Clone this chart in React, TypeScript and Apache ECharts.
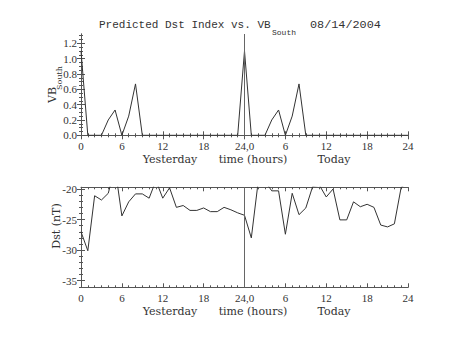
import React, { useEffect, useRef } from "react";
import * as echarts from "echarts";

// hourly values, hour 0 (yesterday 00 UT) .. hour 48 (today 24 UT)
const vbSouth = [
  1.1, 0, 0, 0, 0.2, 0.33, 0, 0.25, 0.67, 0,
  0, 0, 0, 0, 0, 0, 0, 0, 0, 0,
  0, 0, 0, 0, 1.1, 0, 0, 0, 0.2, 0.33,
  0, 0.25, 0.67, 0, 0, 0, 0, 0, 0, 0,
  0, 0, 0, 0, 0, 0, 0, 0, 0,
];
const dst = [
  -27.0, -30.1, -21.1, -21.8, -20.7, -16.5, -24.4, -22.1, -20.8, -20.8,
  -21.5, -18.6, -21.5, -19.8, -23.0, -22.7, -23.5, -23.5, -23.1, -23.7,
  -23.7, -23.0, -23.4, -23.9, -24.3, -28.0, -18.9, -18.7, -20.3, -20.3,
  -27.4, -20.7, -24.2, -23.1, -19.6, -19.4, -21.3, -20.0, -25.05, -25.05,
  -22.1, -22.9, -22.5, -23.0, -25.9, -26.2, -25.7, -19.7, -19.0,
];
const xMajorTicks = [0, 6, 12, 18, 24, 30, 36, 42, 48];
const xMajorLabels = ["0", "6", "12", "18", "24,0", "6", "12", "18", "24"];
const xMinorTicks = Array.from({ length: 49 }, (_, i) => i);
const vbMajorTicks = [0, 0.2, 0.4, 0.6, 0.8, 1.0, 1.2];
const vbMinorTicks = [0, 0.05, 0.1, 0.15, 0.2, 0.25, 0.3, 0.35, 0.4, 0.45, 0.5, 0.55, 0.6, 0.65, 0.7, 0.75, 0.8, 0.85, 0.9, 0.95, 1.0, 1.05, 1.1, 1.15, 1.2, 1.25, 1.3];
const dstMajorTicks = [-35, -30, -25, -20];
const dstMinorTicks = [-36, -35, -34, -33, -32, -31, -30, -29, -28, -27, -26, -25, -24, -23, -22, -21, -20];

const FRAME = "#555";
const INK = "#333";
const TICKFONT = "Liberation Serif";
const TEXTFONT = "DejaVu Serif";
const TITLEFONT = "Liberation Mono";

function axis(
  gridIndex: number,
  position: string,
  min: number,
  max: number,
  ticks: number[],
  len: number,
  labels: boolean,
  showLine: boolean,
  formatter?: (v: number) => string
) {
  return {
    type: "value",
    gridIndex,
    position,
    min,
    max,
    splitLine: { show: false },
    axisLine: { show: showLine, lineStyle: { color: FRAME, width: 1 } },
    axisTick: {
      show: true,
      inside: true,
      length: len,
      customValues: ticks,
      lineStyle: { color: FRAME, width: 1 },
    },
    axisLabel: labels
      ? {
          show: true,
          customValues: ticks,
          margin: position === "left" ? 4 : 5,
          color: INK,
          fontFamily: TICKFONT,
          fontSize: 11,
          formatter,
        }
      : { show: false },
  };
}

const xFmt = (v: number) => xMajorLabels[xMajorTicks.indexOf(v)] ?? "";

export default function App() {
  const ref = useRef<HTMLDivElement>(null);
  useEffect(() => {
    if (!ref.current) return;
    const chart = echarts.init(ref.current, undefined, { renderer: "svg" });
    const xAxes: any[] = [];
    const yAxes: any[] = [];
    const yDefs = [
      { min: 0, max: 1.321, major: vbMajorTicks, minor: vbMinorTicks, fmt: (v: number) => v.toFixed(1) },
      { min: -36.08, max: -19.72, major: dstMajorTicks, minor: dstMinorTicks, fmt: (v: number) => String(v) },
    ];
    for (let g = 0; g < 2; g++) {
      xAxes.push(axis(g, "bottom", 0, 48, xMajorTicks, 4, true, true, xFmt));
      xAxes.push(axis(g, "bottom", 0, 48, xMinorTicks, 2, false, false));
      xAxes.push(axis(g, "top", 0, 48, xMajorTicks, 4, false, true));
      xAxes.push(axis(g, "top", 0, 48, xMinorTicks, 2, false, false));
      const d = yDefs[g];
      yAxes.push(axis(g, "left", d.min, d.max, d.major, 4, true, true, d.fmt));
      yAxes.push(axis(g, "left", d.min, d.max, d.minor, 2, false, false));
      yAxes.push(axis(g, "right", d.min, d.max, d.major, 4, false, true));
      yAxes.push(axis(g, "right", d.min, d.max, d.minor, 2, false, false));
    }
    const markLine = {
      silent: true,
      symbol: ["none", "none"],
      label: { show: false },
      lineStyle: { color: "#666", type: "solid", width: 1 },
      data: [{ xAxis: 24 }],
    };
    const txt = (
      text: string,
      x: number,
      y: number,
      size: number,
      align = "left",
      rotation = 0,
      family = TEXTFONT
    ) => ({
      type: "text",
      x,
      y,
      rotation,
      silent: true,
      style: {
        text,
        font: `${size}px "${family}"`,
        fill: INK,
        textAlign: align,
        align,
        textVerticalAlign: "middle",
        verticalAlign: "middle",
      },
    });
    const R = Math.PI / 2;
    chart.setOption({
      animation: false,
      backgroundColor: "#fff",
      grid: [
        { left: 81, top: 34, width: 327, height: 101.3, outerBoundsMode: "none", containLabel: false },
        { left: 81, top: 187.3, width: 327, height: 100, outerBoundsMode: "none", containLabel: false },
      ],
      xAxis: xAxes,
      yAxis: yAxes,
      series: [
        {
          type: "line",
          xAxisIndex: 0,
          yAxisIndex: 0,
          data: vbSouth.map((v, i) => [i, v]),
          showSymbol: false,
          clip: true,
          lineStyle: { color: INK, width: 1 },
          markLine,
        },
        {
          type: "line",
          xAxisIndex: 4,
          yAxisIndex: 4,
          data: dst.map((v, i) => [i, v]),
          showSymbol: false,
          clip: true,
          lineStyle: { color: INK, width: 1 },
          markLine,
        },
      ],
      graphic: [
        txt("Predicted Dst Index vs. VB", 99, 24.5, 11, "left", 0, TITLEFONT),
        txt("South", 272, 32.5, 8, "left", 0, TITLEFONT),
        txt("08/14/2004", 310, 24.5, 11.8, "left", 0, TITLEFONT),
        txt("VB", 52.5, 95, 11, "center", R),
        txt("South", 59.5, 78, 8, "center", R),
        txt("Dst (nT)", 56, 226, 11, "center", R),
        txt("Yesterday", 170, 159, 11, "center"),
        txt("time (hours)", 253, 159, 11, "center"),
        txt("Today", 334, 159, 11, "center"),
        txt("Yesterday", 170, 311, 11, "center"),
        txt("time (hours)", 253, 311, 11, "center"),
        txt("Today", 334, 311, 11, "center"),
      ],
    });
    return () => chart.dispose();
  }, []);
  return (
    <div
      ref={ref}
      style={{ position: "fixed", left: 0, top: 0, width: 453, height: 340, background: "#fff" }}
    />
  );
}
